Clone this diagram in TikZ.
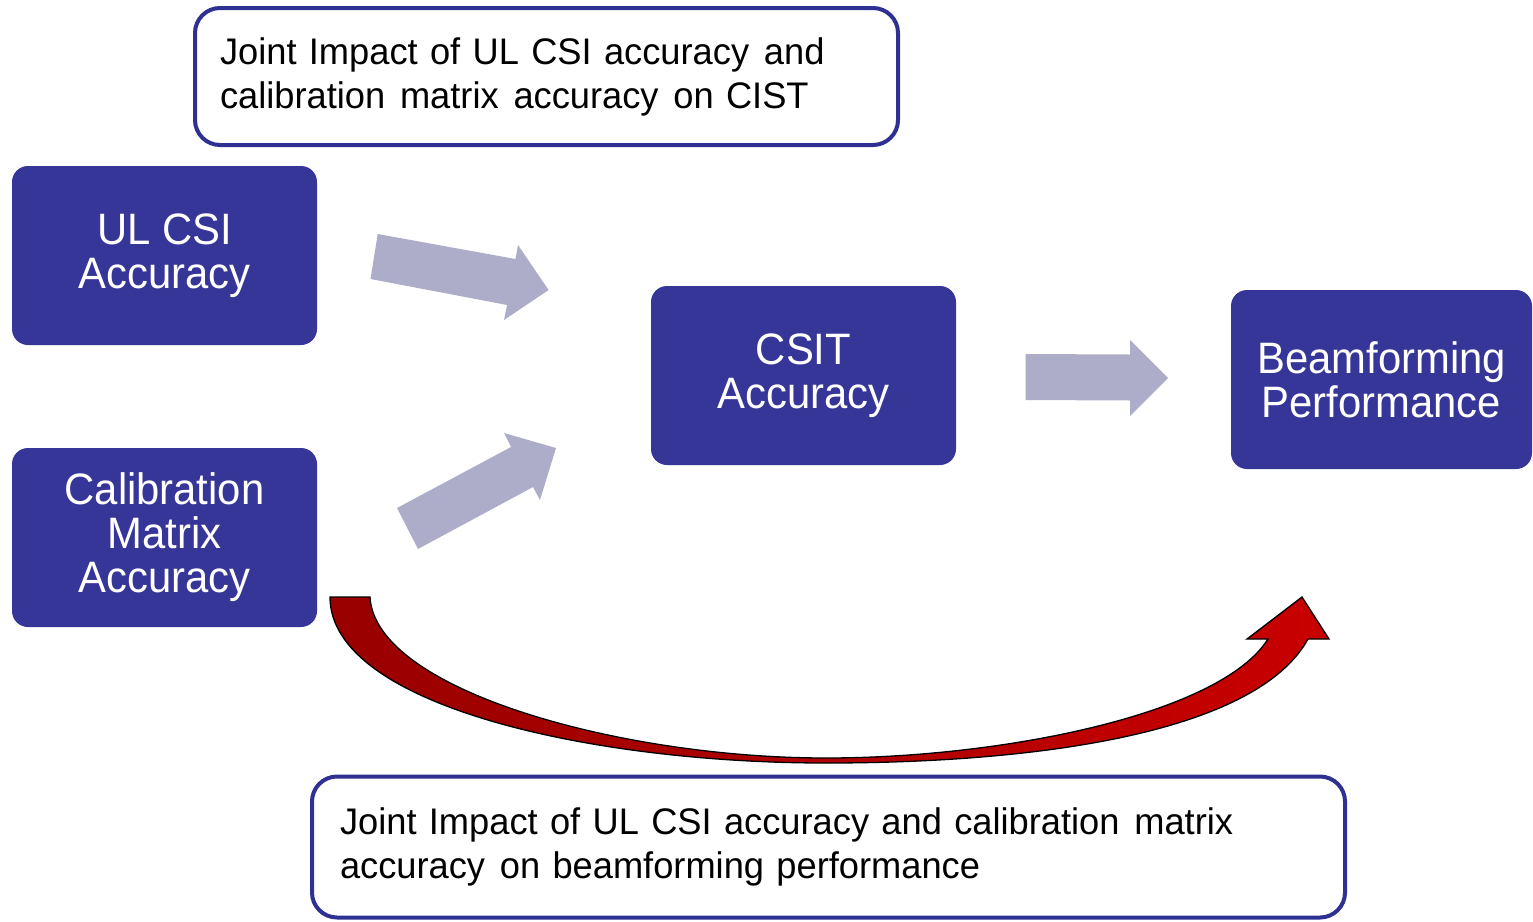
\documentclass[tikz,border=0pt]{standalone}
\usepackage{fontspec}
\setmainfont{Liberation Sans}
\newfontfamily\boxfont[FakeStretch=0.95]{Liberation Sans}
\newfontfamily\notefont[FakeStretch=0.98]{Liberation Sans}
\newcommand{\wsp}{\hspace{0.4em}}
\definecolor{boxblue}{HTML}{363698}
\definecolor{framblue}{HTML}{2E3092}
\definecolor{lightarrow}{HTML}{ADADCA}
\definecolor{darkred}{HTML}{990000}
\definecolor{brightred}{HTML}{C80000}
\tikzset{
  bluebox/.style={rectangle, rounded corners=16pt, fill=boxblue, text=white,
    minimum width=305pt, minimum height=179pt, inner sep=0pt, align=center,
    font=\boxfont\fontsize{44}{44}\selectfont},
  notebox/.style={rectangle, rounded corners=25pt, draw=framblue, line width=4pt,
    fill=white, align=left, inner ysep=0pt,
    font=\notefont\fontsize{37}{44}\selectfont},
  blockarrow/.style={fill=lightarrow, draw=none},
}
\begin{document}
\begin{tikzpicture}[x=1pt,y=-1pt]
\useasboundingbox (0,0) rectangle (1533,921);
% note boxes
\node[notebox, minimum width=703pt, minimum height=137pt, text width=653pt, inner xsep=25pt]
  (topnote) at (546.5,76.5) {Joint Impact of UL CSI accuracy\wsp and\\calibration\wsp matrix\wsp accuracy\wsp on CIST};
\node[notebox, minimum width=1033pt, minimum height=141pt, text width=977pt, inner xsep=28pt]
  (botnote) at (828.5,847) {Joint Impact of UL CSI accuracy and calibration\wsp matrix\\accuracy\wsp on beamforming performance};
% blue boxes
\node[bluebox] (ulcsi) at (164.5,255.5) {UL CSI\\Accuracy};
\node[bluebox] (calib) at (164.5,537.5) {Calibration\\Matrix\\Accuracy};
\node[bluebox] (csit) at (803.5,375.5) {CSIT\\Accuracy};
\node[bluebox, minimum width=301pt] (beam) at (1381.5,379.5) {Beamforming\\Performance};
% block arrows
\fill[blockarrow] (377.7,234) -- (515.5,259) -- (518,245) -- (548.6,290) -- (504,320) -- (507,305) -- (370.5,279) -- cycle;
\fill[blockarrow] (397,508) -- (511,447) -- (504,433) -- (556,448) -- (540,500) -- (533,487) -- (418,549) -- cycle;
\fill[blockarrow] (1025.5,354) -- (1130,354.5) -- (1130,340) -- (1168,378) -- (1130,416) -- (1130,400.5) -- (1025.5,400) -- cycle;
% curved red arrow
\draw[black, line width=1.3pt, left color=darkred, right color=brightred, line join=miter]
  (330,597) -- (370,597)
  .. controls (375,690) and (620,758) .. (826,758)
  .. controls (1000,758) and (1220,715) .. (1268,639)
  -- (1247,639) -- (1302,597) -- (1329,639) -- (1308,639)
  .. controls (1255,735) and (1030,763) .. (826,763)
  .. controls (590,763) and (330,705) .. (330,597) -- cycle;
\end{tikzpicture}
\end{document}
